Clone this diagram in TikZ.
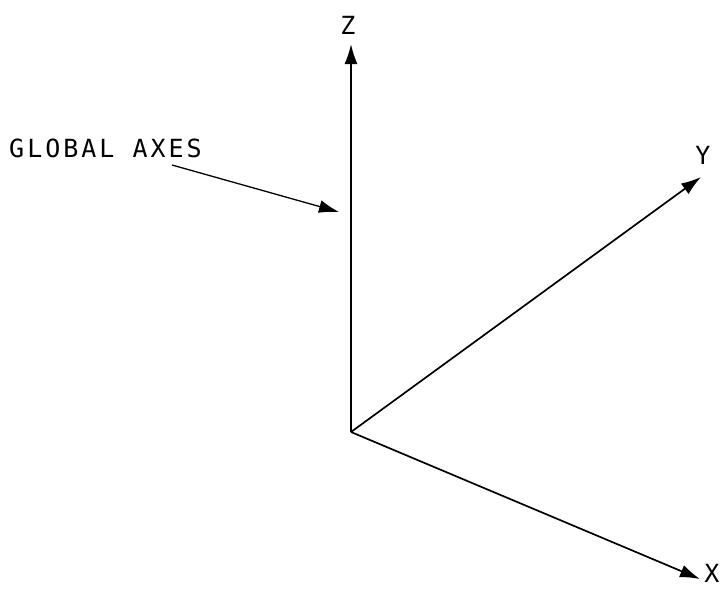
\documentclass[tikz,border=0pt]{standalone}
\usepackage{fontspec}
\newfontfamily\plotfont[LetterSpace=12]{DejaVu Sans Mono}
\newfontfamily\plotfontsingle{DejaVu Sans Mono}
\usetikzlibrary{arrows.meta}
\tikzset{
  axis/.style={line width=1.7pt, -{Latex[length=20pt,width=13pt]}},
  lbl/.style={font=\plotfontsingle\fontsize{25}{25}\selectfont, inner sep=0pt, text=black},
  lblwide/.style={font=\plotfont\fontsize{25}{25}\selectfont, inner sep=0pt, text=black},
}
\begin{document}
\begin{tikzpicture}[x=1pt,y=-1pt]
\useasboundingbox (0,0) rectangle (724,590);
\coordinate (O) at (351,432);
\coordinate (Zt) at (351,44);
\coordinate (Yt) at (701,177);
\coordinate (Xt) at (700,579);
\draw[axis] (O) -- (Zt);
\draw[axis] (O) -- (Yt);
\draw[axis] (O) -- (Xt);
\node[lbl] (Z) at (348,25) {Z};
\node[lbl] (Y) at (703,155) {Y};
\node[lbl] (X) at (712,573) {X};
\node[lblwide, anchor=base west] (G) at (9,157) {GLOBAL AXES};
\coordinate (Gs) at (172,165);
\coordinate (Gt) at (339,212);
\draw[line width=1.3pt, -{Latex[length=20pt,width=13pt]}] (Gs) -- (Gt);
\end{tikzpicture}
\end{document}
